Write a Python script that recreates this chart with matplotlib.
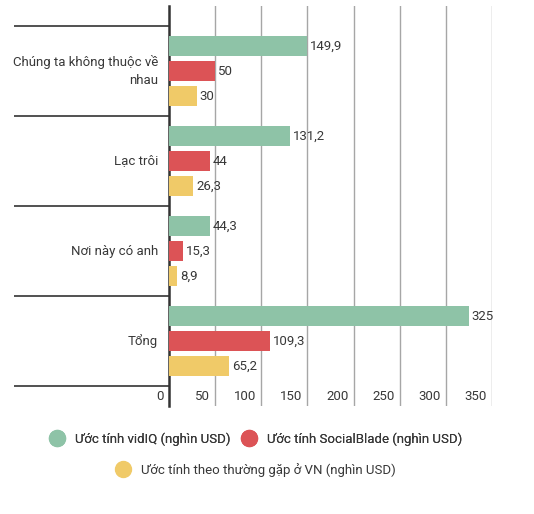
import matplotlib
matplotlib.use("Agg")
import matplotlib.pyplot as plt
from matplotlib.lines import Line2D
import numpy as np

categories = ["Chúng ta không thuộc về\nnhau", "Lạc trôi", "Nơi này có anh", "Tổng"]
series_names = ["Ước tính vidIQ (nghìn USD)", "Ước tính SocialBlade (nghìn USD)",
                "Ước tính theo thường gặp ở VN (nghìn USD)"]
vidiq = [149.9, 131.2, 44.3, 325]
socialblade = [50, 44, 15.3, 109.3]
thuong_gap = [30, 26.3, 8.9, 65.2]
xticks = [0, 50, 100, 150, 200, 250, 300, 350]

colors = ["#8ec3a7", "#dc5356", "#f0ca68"]
txt = "#383838"

plt.rcParams['font.family'] = ['Roboto', 'DejaVu Sans']

W, H = 534, 514
fig = plt.figure(figsize=(W/100, H/100), dpi=100)
left, right, top, bottom = 169, 492, 6, 406
ax = fig.add_axes([left/W, 1-bottom/H, (right-left)/W, (bottom-top)/H])

n = len(categories)
extra = 20/90
ax.set_ylim(n-0.5+extra, -0.5-extra)
ax.set_xlim(0, 350)

offs = [-25/90, 0, 25/90]
bh = 20/90
y = np.arange(n)
for vals, off, c in zip([vidiq, socialblade, thuong_gap], offs, colors):
    ax.barh(y+off, vals, height=bh, color=c, zorder=3)
    for yi, v in zip(y, vals):
        s = f"{v:g}".replace(".", ",")
        ax.annotate(s, (v, yi+off), xytext=(2, 0), textcoords="offset points",
                    va="center", ha="left", fontsize=9.5, color=txt, zorder=4)

for s in ["top", "right", "bottom"]:
    ax.spines[s].set_visible(False)
ax.spines["left"].set_color("#333333")
ax.spines["left"].set_linewidth(1.8)
ax.set_xticks([])
ax.set_yticks([])
for xv in xticks[1:]:
    ax.axvline(xv, color="#a6a6a6", linewidth=1.0, zorder=1)

# category separators
bounds = np.arange(n+1) - 0.5
ax.hlines(bounds, (14-left)/(right-left), 0, transform=ax.get_yaxis_transform(),
          color="#333333", linewidth=1.2, clip_on=False)

# category labels
for yi, cat in zip(y, categories):
    ax.text(-11/(right-left), yi, cat, transform=ax.get_yaxis_transform(),
            ha="right", va="center", fontsize=9.5, color=txt, multialignment="right",
            linespacing=1.5)

# x tick labels
ylab = n - 0.5 + 11/90
for xv in xticks:
    ax.text(xv - 5/0.923, ylab, str(xv), ha="right", va="center",
            fontsize=9.5, color=txt)

handles = [Line2D([0], [0], marker="o", linestyle="", markersize=11.5,
                  markerfacecolor=c, markeredgecolor=c) for c in colors]
leg1 = fig.legend(handles[:2], series_names[:2], loc="center", ncol=2,
                  bbox_to_anchor=(253/W, 1-439/H), frameon=False, fontsize=9.5,
                  handletextpad=0.35, columnspacing=0.45, labelcolor=txt)
fig.add_artist(leg1)
fig.legend(handles[2:], series_names[2:], loc="center",
           bbox_to_anchor=(253/W, 1-470/H), frameon=False, fontsize=9.5,
           handletextpad=0.35, labelcolor=txt)

fig.savefig("out.png", dpi=100)
